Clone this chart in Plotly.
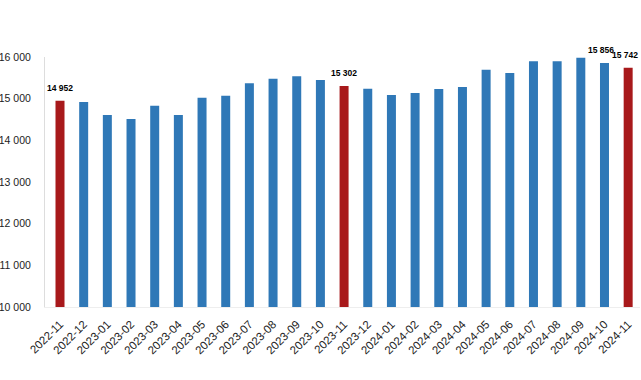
import plotly.graph_objects as go

months = ["2022-11", "2022-12", "2023-01", "2023-02", "2023-03", "2023-04", "2023-05",
          "2023-06", "2023-07", "2023-08", "2023-09", "2023-10", "2023-11", "2023-12",
          "2024-01", "2024-02", "2024-03", "2024-04", "2024-05", "2024-06", "2024-07",
          "2024-08", "2024-09", "2024-10", "2024-11"]
values = [14952, 14920, 14610, 14510, 14830, 14610, 15020,
          15070, 15370, 15480, 15540, 15450, 15302, 15240,
          15090, 15135, 15230, 15280, 15695, 15615, 15900,
          15900, 15980, 15856, 15742]
highlight = ["2022-11", "2023-11", "2024-11"]
labelled = ["2022-11", "2023-11", "2024-10", "2024-11"]
label_xshift = [0, 0, -3, 0]

BLUE = "#2f78b7"
RED = "#a8191b"
colors = [RED if m in highlight else BLUE for m in months]

fig = go.Figure(go.Bar(
    x=months, y=values,
    marker=dict(color=colors, line=dict(width=0)),
    hoverinfo="x+y",
))

for m, dx in zip(labelled, label_xshift):
    v = values[months.index(m)]
    last = m == months[-1]
    fig.add_annotation(
        x=m, y=v, yshift=6, xshift=dx, showarrow=False,
        text=f"{v:,}".replace(",", " "),
        yanchor="bottom", xanchor="right" if last else "center",
        xref="x", yref="y",
        font=dict(family="Liberation Sans, Arial", size=8.5, color="#000000", weight="bold"),
    )
# keep the last label inside the canvas: anchor it to the paper's right edge
fig.layout.annotations[-1].update(xref="paper", x=1.0, xshift=0)

fig.update_layout(
    width=641, height=380,
    margin=dict(l=45, r=1, t=57, b=73),
    paper_bgcolor="white", plot_bgcolor="white",
    bargap=0.62,
    showlegend=False,
    font=dict(family="Liberation Sans, Arial", size=10, color="#222222"),
    xaxis=dict(
        type="category", tickangle=-45, tickfont=dict(size=11.5, color="#222222"),
        showline=True, linecolor="#eeeeee", linewidth=1,
        showgrid=False, ticks="", ticklen=0, automargin=False, ticklabelstandoff=5,
    ),
    yaxis=dict(
        range=[10000, 16000], tickvals=[10000, 11000, 12000, 13000, 14000, 15000, 16000],
        ticktext=["10 000", "11 000", "12 000", "13 000", "14 000", "15 000", "16 000"],
        tickfont=dict(size=10.5, color="#222222"),
        showline=True, linecolor="#dddddd", linewidth=1,
        showgrid=False, zeroline=False, ticks="", ticklabelstandoff=11, automargin=False,
    ),
)

fig.write_html("out.html", config={"displayModeBar": False},
               post_script="document.body.style.margin='0';")
